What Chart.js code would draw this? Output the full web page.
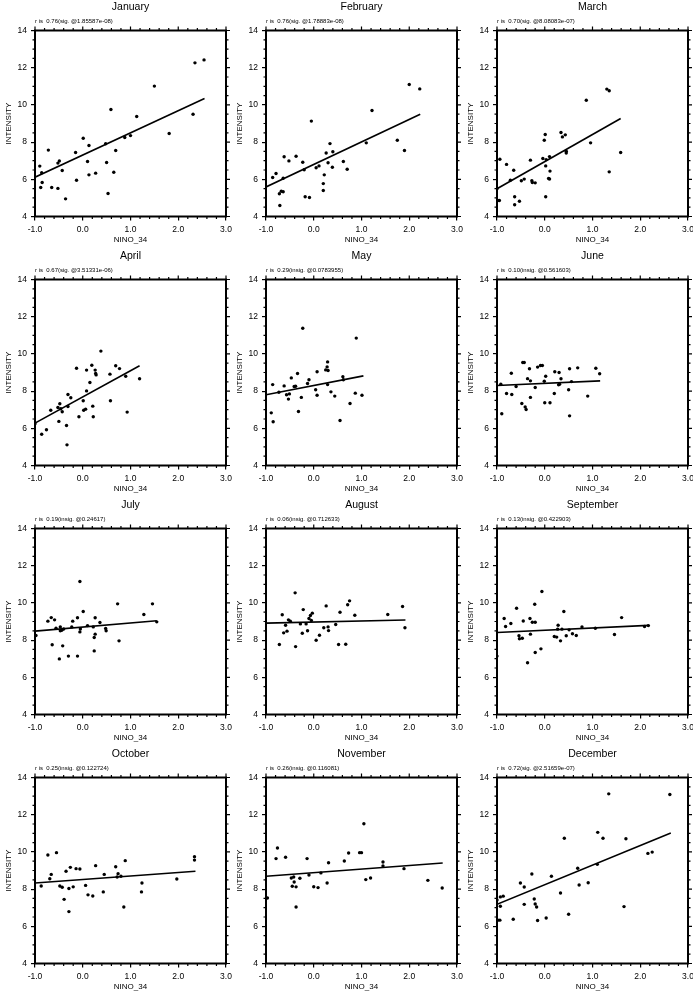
<!DOCTYPE html>
<html>
<head>
<meta charset="utf-8">
<script src="https://cdn.jsdelivr.net/npm/chart.js@4.4.1/dist/chart.umd.min.js"></script>
<style>
  html, body { margin: 0; padding: 0; background: #fff; }
  #grid { position: relative; width: 693px; height: 996px; overflow: hidden; }
  .panel { position: absolute; width: 236px; height: 249px; }
</style>
</head>
<body>
<div id="grid"></div>
<script>
const months = ['January', 'February', 'March', 'April', 'May', 'June',
    'July', 'August', 'September', 'October', 'November', 'December'];

const stats = [
    '0.76(sig. @1.85587e-08)', '0.76(sig. @1.78883e-08)', '0.70(sig. @8.08083e-07)',
    '0.67(sig. @3.51331e-06)', '0.29(insig. @0.0783955)', '0.10(insig. @0.561603)',
    '0.19(insig. @0.24617)', '0.06(insig. @0.712633)', '0.13(insig. @0.422903)',
    '0.25(insig. @0.122724)', '0.26(insig. @0.116081)', '0.72(sig. @2.51659e-07)'
];

const xTicks = [-1, 0, 1, 2, 3];
const yTicks = [4, 6, 8, 10, 12, 14];

// NINO_34 (x) and INTENSITY (y) per month
const janX = [-0.90, -0.86, -0.85, -0.88, -0.72, -0.65, -0.52, -0.49, -0.52, -0.43, -0.36, -0.15, -0.13, 0.01, 0.10, 0.13, 0.13, 0.27, 0.48, 0.50, 0.53, 0.59, 0.65, 0.69, 0.88, 1.00, 1.13, 1.50, 1.81, 2.31, 2.35, 2.54];
const janY = [6.71, 6.35, 5.83, 5.56, 7.57, 5.56, 6.87, 6.99, 5.51, 6.47, 4.95, 7.44, 5.95, 8.21, 6.96, 7.82, 6.24, 6.33, 7.91, 6.90, 5.24, 9.75, 6.38, 7.55, 8.25, 8.35, 9.38, 11.01, 8.46, 9.50, 12.26, 12.42];

const febX = [-0.86, -0.79, -0.72, -0.71, -0.68, -0.64, -0.64, -0.62, -0.52, -0.37, -0.23, -0.20, -0.18, -0.09, -0.05, 0.05, 0.11, 0.20, 0.20, 0.22, 0.26, 0.30, 0.34, 0.39, 0.40, 0.62, 0.70, 1.10, 1.22, 1.75, 1.90, 2.00, 2.22];
const febY = [6.10, 6.31, 5.22, 4.59, 5.36, 5.33, 6.06, 7.21, 6.99, 7.24, 6.92, 6.51, 5.06, 5.02, 9.13, 6.62, 6.72, 5.77, 5.40, 6.24, 7.41, 6.89, 7.92, 6.65, 7.48, 6.96, 6.54, 7.96, 9.70, 8.10, 7.55, 11.10, 10.86];

const marX = [-1.00, -0.98, -0.95, -0.94, -0.80, -0.72, -0.65, -0.63, -0.63, -0.53, -0.49, -0.43, -0.30, -0.27, -0.26, -0.20, -0.04, -0.01, 0.01, 0.02, 0.02, 0.03, 0.08, 0.10, 0.10, 0.11, 0.34, 0.37, 0.43, 0.45, 0.45, 0.87, 0.96, 1.30, 1.35, 1.35, 1.59];
const marY = [5.49, 4.86, 4.86, 7.08, 6.80, 5.95, 6.49, 5.06, 4.63, 4.82, 5.92, 6.01, 7.03, 5.92, 5.83, 5.81, 7.12, 8.10, 8.41, 6.72, 5.06, 7.06, 6.04, 6.02, 7.22, 6.44, 8.52, 8.28, 8.39, 7.51, 7.41, 10.25, 7.96, 10.85, 10.76, 6.40, 7.44];

const aprX = [-1.00, -0.86, -0.76, -0.67, -0.50, -0.52, -0.48, -0.46, -0.43, -0.34, -0.33, -0.31, -0.31, -0.25, -0.13, -0.08, 0.01, 0.02, 0.06, 0.08, 0.08, 0.15, 0.19, 0.21, 0.22, 0.26, 0.27, 0.28, 0.38, 0.57, 0.58, 0.69, 0.77, 0.90, 0.93, 1.19];
const aprY = [6.24, 5.68, 5.92, 6.97, 6.37, 7.12, 7.32, 7.05, 6.89, 6.15, 5.11, 7.82, 7.17, 7.64, 9.23, 6.62, 7.48, 6.97, 7.03, 9.13, 8.01, 8.46, 9.39, 7.19, 6.62, 9.13, 8.95, 8.87, 10.15, 8.91, 7.48, 9.36, 9.21, 8.80, 6.87, 8.66];

const mayX = [-0.89, -0.86, -0.85, -0.73, -0.62, -0.57, -0.53, -0.51, -0.47, -0.41, -0.38, -0.34, -0.32, -0.26, -0.23, -0.13, -0.10, 0.04, 0.07, 0.07, 0.25, 0.28, 0.29, 0.30, 0.29, 0.36, 0.44, 0.55, 0.61, 0.62, 0.76, 0.87, 0.89, 1.01];
const mayY = [6.83, 8.35, 6.35, 7.94, 8.28, 7.80, 7.57, 7.85, 8.71, 8.25, 8.26, 8.95, 6.90, 7.66, 11.38, 8.41, 8.61, 8.07, 7.78, 9.04, 9.14, 9.30, 9.57, 9.11, 8.35, 7.96, 7.73, 6.42, 8.77, 8.61, 7.33, 7.89, 10.85, 7.78];

const junX = [-0.92, -0.90, -0.80, -0.70, -0.69, -0.60, -0.48, -0.46, -0.43, -0.41, -0.39, -0.36, -0.32, -0.30, -0.30, -0.20, -0.15, -0.09, -0.05, -0.01, 0.00, 0.02, 0.11, 0.20, 0.21, 0.29, 0.30, 0.31, 0.34, 0.50, 0.52, 0.52, 0.56, 0.69, 0.90, 1.07, 1.15];
const junY = [8.37, 6.78, 7.87, 8.96, 7.82, 8.25, 7.33, 9.54, 9.54, 7.15, 7.01, 8.67, 9.20, 8.55, 7.66, 8.19, 9.29, 9.38, 9.38, 8.53, 7.37, 8.80, 7.37, 7.87, 9.04, 8.34, 9.00, 8.37, 8.66, 8.07, 9.20, 6.67, 8.51, 9.25, 7.73, 9.23, 8.93];

const julX = [-0.98, -0.73, -0.66, -0.64, -0.59, -0.56, -0.49, -0.47, -0.47, -0.44, -0.42, -0.40, -0.30, -0.23, -0.21, -0.11, -0.11, -0.06, -0.06, -0.05, 0.01, 0.10, 0.22, 0.24, 0.24, 0.26, 0.26, 0.36, 0.48, 0.49, 0.73, 0.76, 1.28, 1.46, 1.55];
const julY = [8.25, 9.02, 9.21, 7.75, 9.09, 8.64, 6.99, 8.71, 8.50, 8.53, 7.69, 8.60, 7.14, 8.71, 9.02, 7.14, 9.20, 11.15, 8.44, 8.60, 9.54, 8.78, 8.71, 7.42, 8.14, 8.32, 9.20, 8.95, 8.62, 8.50, 9.95, 7.96, 9.38, 9.95, 8.98];

const augX = [-0.72, -0.66, -0.63, -0.59, -0.56, -0.53, -0.49, -0.39, -0.38, -0.28, -0.24, -0.22, -0.16, -0.13, -0.10, -0.07, -0.05, -0.03, 0.05, 0.12, 0.21, 0.26, 0.30, 0.31, 0.46, 0.52, 0.55, 0.67, 0.71, 0.75, 0.86, 1.55, 1.86, 1.91];
const augY = [7.76, 9.36, 8.39, 8.80, 8.48, 9.09, 9.02, 10.54, 7.65, 8.87, 8.37, 9.64, 8.87, 8.50, 9.16, 9.32, 9.05, 9.45, 7.99, 8.26, 8.66, 9.84, 8.71, 8.51, 8.84, 7.76, 9.50, 7.78, 9.90, 10.11, 9.34, 9.38, 9.81, 8.66];

const sepX = [-1.00, -0.85, -0.82, -0.71, -0.59, -0.54, -0.53, -0.47, -0.45, -0.36, -0.31, -0.30, -0.26, -0.21, -0.20, -0.20, -0.08, -0.06, 0.20, 0.25, 0.27, 0.28, 0.33, 0.36, 0.40, 0.45, 0.51, 0.58, 0.66, 0.78, 1.06, 1.46, 1.61, 2.09, 2.17];
const sepY = [7.14, 9.16, 8.73, 8.89, 9.71, 8.23, 8.07, 8.10, 9.03, 6.78, 9.16, 8.32, 8.96, 9.93, 8.96, 7.33, 7.53, 10.61, 8.19, 8.16, 8.59, 8.80, 7.96, 8.59, 9.54, 8.23, 8.55, 8.34, 8.25, 8.71, 8.64, 8.30, 9.21, 8.73, 8.78];

const octX = [-0.87, -0.73, -0.69, -0.66, -0.55, -0.48, -0.43, -0.39, -0.35, -0.29, -0.29, -0.26, -0.20, -0.14, -0.06, 0.06, 0.11, 0.21, 0.27, 0.43, 0.45, 0.69, 0.72, 0.74, 0.80, 0.86, 0.89, 1.23, 1.24, 1.97, 2.34, 2.34];
const octY = [8.17, 9.83, 8.56, 8.79, 9.96, 8.17, 8.10, 7.45, 8.96, 8.03, 6.79, 9.17, 8.12, 9.10, 9.08, 8.20, 7.69, 7.63, 9.26, 7.85, 8.79, 9.20, 8.65, 8.83, 8.69, 7.04, 9.53, 7.85, 8.33, 8.54, 9.74, 9.56];

const novX = [-0.97, -0.79, -0.76, -0.59, -0.47, -0.45, -0.42, -0.41, -0.37, -0.37, -0.29, -0.14, -0.10, 0.00, 0.09, 0.15, 0.28, 0.31, 0.64, 0.73, 0.96, 1.00, 1.05, 1.09, 1.19, 1.45, 1.45, 1.89, 2.39, 2.69];
const novY = [7.52, 9.64, 10.21, 9.71, 8.60, 8.15, 8.65, 8.38, 8.12, 7.04, 8.58, 9.64, 8.76, 8.13, 8.08, 8.87, 8.33, 9.42, 9.51, 9.94, 9.96, 9.96, 11.51, 8.51, 8.60, 9.24, 9.46, 9.10, 8.47, 8.06];

const decX = [-1.00, -0.98, -0.94, -0.93, -0.93, -0.87, -0.66, -0.51, -0.43, -0.43, -0.27, -0.22, -0.20, -0.17, -0.15, 0.03, 0.14, 0.33, 0.41, 0.50, 0.69, 0.72, 0.91, 1.10, 1.11, 1.22, 1.34, 1.66, 1.70, 2.16, 2.25, 2.62];
const decY = [7.42, 6.33, 6.33, 7.58, 7.08, 7.62, 6.38, 8.33, 8.11, 7.18, 8.81, 7.47, 7.20, 7.04, 6.31, 6.45, 8.69, 7.79, 10.73, 6.65, 9.12, 8.22, 8.34, 9.33, 11.05, 10.73, 13.12, 7.06, 10.71, 9.92, 9.99, 13.09];

// regression line end points
const fitX0 = [-1, -1, -1, -1, -1, -1, -1, -1, -1, -1, -1, -1];
const fitY0 = [6.11, 5.59, 5.49, 6.28, 7.80, 8.30, 8.48, 8.91, 8.41, 8.33, 8.69, 7.18];
const fitX1 = [2.55, 2.23, 1.59, 1.19, 1.04, 1.16, 1.55, 1.92, 2.17, 2.36, 2.70, 2.64];
const fitY1 = [10.34, 9.50, 9.27, 9.36, 8.82, 8.55, 9.04, 9.08, 8.79, 8.96, 9.40, 11.01];

const allX = [janX, febX, marX, aprX, mayX, junX, julX, augX, sepX, octX, novX, decX];
const allY = [janY, febY, marY, aprY, mayY, junY, julY, augY, sepY, octY, novY, decY];

Chart.defaults.font.family = '"Liberation Sans", Arial, Helvetica, sans-serif';
Chart.defaults.color = '#000';

// box, NCL style tick marks and the panel texts
const framePlugin = {
    id: 'frame',
    afterDraw(chart, args, opts) {
        const { ctx, chartArea: a, scales: { x, y } } = chart;
        ctx.save();
        ctx.strokeStyle = '#000';
        ctx.lineWidth = 1.2;
        ctx.beginPath();
        for (let i = 0; i <= 20; i++) {
            const px = x.getPixelForValue(-1 + i * 0.2);
            const len = i % 5 === 0 ? 4 : 2.5;
            ctx.moveTo(px, a.top); ctx.lineTo(px, a.top - len);
            if (i % 5 !== 0) { ctx.moveTo(px, a.bottom); ctx.lineTo(px, a.bottom + len); }
        }
        for (let i = 0; i <= 20; i++) {
            const py = y.getPixelForValue(4 + i * 0.5);
            const len = i % 4 === 0 ? 4 : 2.5;
            ctx.moveTo(a.right, py); ctx.lineTo(a.right + len, py);
            if (i % 4 !== 0) { ctx.moveTo(a.left, py); ctx.lineTo(a.left - len, py); }
        }
        ctx.stroke();
        ctx.lineWidth = 2;
        ctx.strokeRect(a.left, a.top, a.right - a.left, a.bottom - a.top);

        ctx.fillStyle = '#000';
        ctx.textBaseline = 'middle';
        ctx.textAlign = 'center';
        ctx.font = '10.5px "Liberation Sans", Arial, sans-serif';
        ctx.fillText(opts.title, (a.left + a.right) / 2, 7.5);
        ctx.textAlign = 'left';
        ctx.font = '6px "Liberation Sans", Arial, sans-serif';
        ctx.fillText('r is  ' + opts.stat, a.left, a.top - 9);
        ctx.restore();
    }
};

const grid = document.getElementById('grid');

months.forEach((name, i) => {
    const box = document.createElement('div');
    box.className = 'panel';
    box.style.left = (i % 3) * 231 + 'px';
    box.style.top = Math.floor(i / 3) * 249 + 'px';
    const canvas = document.createElement('canvas');
    box.appendChild(canvas);
    grid.appendChild(box);

    const points = allX[i].map((v, k) => ({ x: v, y: allY[i][k] }));

    new Chart(canvas, {
        type: 'scatter',
        data: {
            datasets: [
                {
                    data: points,
                    pointRadius: 1.7,
                    pointBackgroundColor: '#000',
                    pointBorderWidth: 0,
                    showLine: false
                },
                {
                    data: [{ x: fitX0[i], y: fitY0[i] }, { x: fitX1[i], y: fitY1[i] }],
                    showLine: true,
                    borderColor: '#000',
                    borderWidth: 1.6,
                    pointRadius: 0
                }
            ]
        },
        options: {
            responsive: true,
            maintainAspectRatio: false,
            animation: false,
            layout: { padding: { top: 30.5, right: 10, left: 0, bottom: 0 } },
            plugins: {
                legend: { display: false },
                tooltip: { enabled: false },
                frame: { title: name, stat: stats[i] }
            },
            scales: {
                x: {
                    type: 'linear',
                    min: -1,
                    max: 3,
                    afterFit: s => { s.height = 32.5; s.paddingLeft = 0; s.paddingRight = 0; },
                    afterBuildTicks: s => { s.ticks = xTicks.map(v => ({ value: v })); },
                    ticks: {
                        callback: v => v.toFixed(1),
                        font: { size: 8.5 },
                        padding: 4,
                        maxRotation: 0,
                        autoSkip: false
                    },
                    grid: { drawOnChartArea: false, drawTicks: true, tickLength: 4, color: '#000', lineWidth: 1.2 },
                    border: { display: false },
                    title: { display: true, text: 'NINO_34', font: { size: 8 }, padding: { top: 0, bottom: 4 } }
                },
                y: {
                    min: 4,
                    max: 14,
                    afterFit: s => { s.width = 35; s.paddingTop = 0; s.paddingBottom = 0; },
                    afterBuildTicks: s => { s.ticks = yTicks.map(v => ({ value: v })); },
                    ticks: { font: { size: 8.5 }, padding: 4 },
                    grid: { drawOnChartArea: false, drawTicks: true, tickLength: 4, color: '#000', lineWidth: 1.2 },
                    border: { display: false },
                    title: { display: true, text: 'INTENSITY', font: { size: 8 }, padding: { top: 3.5, bottom: 0 } }
                }
            }
        },
        plugins: [framePlugin]
    });
});
</script>
</body>
</html>
